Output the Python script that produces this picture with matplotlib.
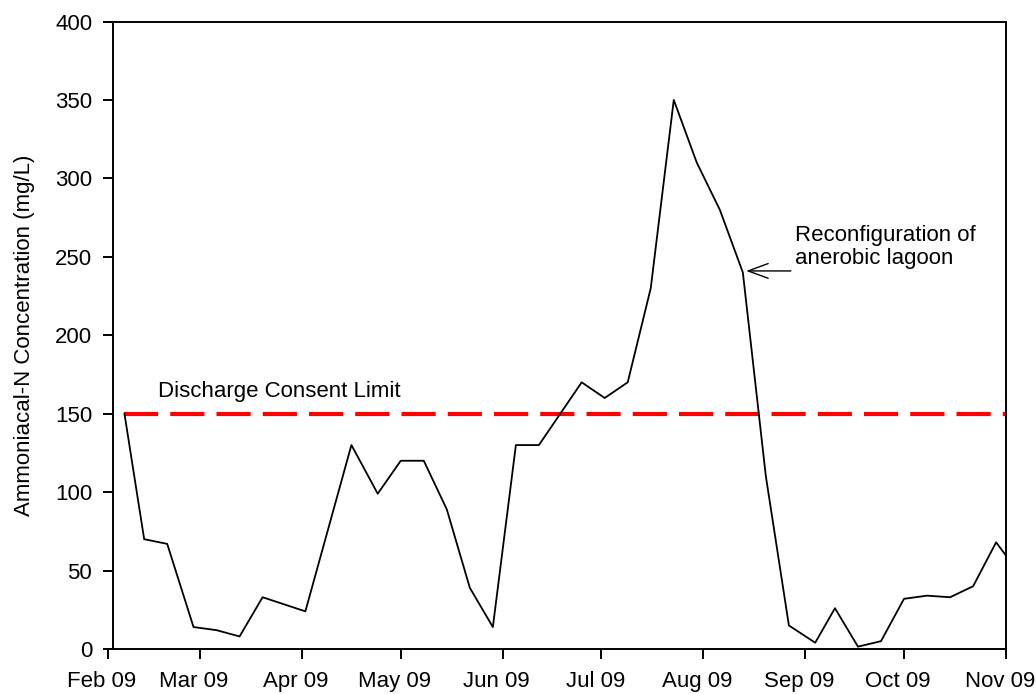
import numpy as np
import matplotlib
matplotlib.use("Agg")
import matplotlib.pyplot as plt
import matplotlib.dates as mdates
import matplotlib.transforms as mtransforms

# ---------------- data ----------------
sample_dates = [
    "2009-02-06", "2009-02-12", "2009-02-19", "2009-02-27", "2009-03-06",
    "2009-03-13", "2009-03-20", "2009-04-02", "2009-04-16", "2009-04-24",
    "2009-05-01", "2009-05-08", "2009-05-15", "2009-05-22", "2009-05-29",
    "2009-06-05", "2009-06-12", "2009-06-25", "2009-07-02", "2009-07-09",
    "2009-07-16", "2009-07-23", "2009-07-30", "2009-08-06", "2009-08-13",
    "2009-08-20", "2009-08-27", "2009-09-04", "2009-09-10", "2009-09-17",
    "2009-09-24", "2009-10-01", "2009-10-08", "2009-10-15", "2009-10-22",
    "2009-10-29", "2009-11-01",
]
ammonia_mgL = [
    150, 70, 67, 14, 12,
    8, 33, 24, 130, 99,
    120, 120, 89, 39, 14,
    130, 130, 170, 160, 170,
    230, 350, 310, 280, 240,
    110, 15, 4, 26, 1.5,
    5, 32, 34, 33, 40,
    68, 59.5,
]
consent_limit = 150
y_ticks = [0, 50, 100, 150, 200, 250, 300, 350, 400]
x_start = "2009-02-01"
x_end = "2009-11-01"

y_label = "Ammoniacal-N Concentration (mg/L)"
limit_label = "Discharge Consent Limit"
event_label = "Reconfiguration of\nanerobic lagoon"
event_point = ("2009-08-14T00:00", 241)

# ---------------- style ----------------
plt.rcParams["font.family"] = ["Liberation Sans", "DejaVu Sans"]
plt.rcParams["font.size"] = 16

fig = plt.figure(figsize=(10.36, 6.94), dpi=100)
ax = fig.add_axes([108 / 1036, 45 / 694, 898 / 1036, 627.5 / 694])

d = np.array(sample_dates, dtype="datetime64[m]")
xe = np.datetime64(x_end, "m")

# consent limit dashed line
ax.plot([d[0], xe], [consent_limit, consent_limit], color="#ff0000", lw=3,
        dashes=(8.2, 2.9), dash_capstyle="butt", zorder=2)
# concentration series
ax.plot(d, ammonia_mgL, color="black", lw=1.3, zorder=3)

ax.set_xlim(np.datetime64(x_start, "m"), xe)
ax.set_ylim(y_ticks[0], y_ticks[-1])
ax.set_yticks(y_ticks)
ax.xaxis.set_major_locator(mdates.MonthLocator())
ax.xaxis.set_major_formatter(mdates.DateFormatter("%b %y"))

for s in ax.spines.values():
    s.set_linewidth(1.4)
ax.spines["left"].set_position(("axes", 5 / 898))

ax.tick_params(axis="both", which="major", direction="out", length=7,
               width=1.4, labelsize=16, top=False, right=False)
ax.tick_params(axis="y", pad=8)
ax.tick_params(axis="x", pad=9)

# x tick labels sit slightly left of their ticks in the reference
shift = mtransforms.ScaledTranslation(-6 / 100, 0, fig.dpi_scale_trans)
for lbl in ax.get_xticklabels():
    lbl.set_transform(lbl.get_transform() + shift)

ax.set_ylabel(y_label, fontsize=16)
ax.yaxis.set_label_coords(-(108 - 35) / 898, 0.5)

# text labels
ax.text(np.datetime64("2009-02-16T05:00"), 160.5, limit_label, fontsize=16,
        ha="left", va="baseline")

tip = (np.datetime64(event_point[0]), event_point[1])
tail = (np.datetime64("2009-08-27T14:00"), event_point[1])
ax.annotate("", xy=tip, xytext=tail,
            arrowprops=dict(arrowstyle="->,head_length=1.44,head_width=0.53",
                            mutation_scale=10, lw=1.0, color="black",
                            shrinkA=0, shrinkB=0))
ax.text(np.datetime64("2009-08-28T19:00"), 245.2, event_label, fontsize=16,
        ha="left", va="baseline", linespacing=1.17)

fig.savefig("out.png", dpi=100)
